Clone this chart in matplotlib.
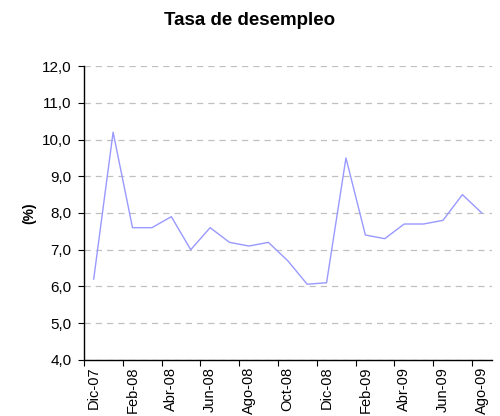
import numpy as np
import matplotlib
matplotlib.use("Agg")
import matplotlib.pyplot as plt
from matplotlib.ticker import FixedLocator, FuncFormatter

plt.rcParams['font.family'] = ['Liberation Sans', 'DejaVu Sans']

# Tasa de desempleo mensual, Dic-07 .. Ago-09
meses = ['Dic-07', 'Ene-08', 'Feb-08', 'Mar-08', 'Abr-08', 'May-08', 'Jun-08',
         'Jul-08', 'Ago-08', 'Sep-08', 'Oct-08', 'Nov-08', 'Dic-08', 'Ene-09',
         'Feb-09', 'Mar-09', 'Abr-09', 'May-09', 'Jun-09', 'Jul-09', 'Ago-09']
tasa = [6.2, 10.2, 7.6, 7.6, 7.9, 7.0, 7.6, 7.2, 7.1, 7.2, 6.7, 6.06, 6.1,
        9.5, 7.4, 7.3, 7.7, 7.7, 7.8, 8.5, 8.0]

fig = plt.figure(figsize=(5.0, 4.16), dpi=100)
ax = fig.add_axes([0.168, 0.135, 0.815, 0.706])

x = np.arange(len(meses))
ax.plot(x, tasa, color='#9999FF', lw=1.0)

ax.set_xlim(-0.5, len(meses) - 0.5)
ax.set_ylim(4, 12)
ax.set_yticks(np.arange(4, 12.01, 1))
ax.yaxis.set_major_formatter(FuncFormatter(lambda v, p: f"{v:.1f}".replace('.', ',')))
ax.yaxis.grid(True, color='#C0C0C0', ls=(0, (5, 4)), lw=0.9)
ax.set_axisbelow(True)

# ticks between categories, labels every two months
ax.xaxis.set_major_locator(FixedLocator(np.arange(-0.5, len(meses) - 1, 2)))
ax.xaxis.set_major_formatter(FuncFormatter(lambda v, p: ''))
ax.xaxis.set_minor_locator(FixedLocator(x[::2]))
ax.set_xticklabels([meses[i] for i in x[::2]], minor=True, rotation=90)
ax.tick_params(axis='x', which='minor', length=0, labelsize=10.5, pad=5)
ax.tick_params(axis='x', which='major', length=4, direction='out', color='black')
ax.tick_params(axis='y', length=4, direction='out', labelsize=11, pad=5, color='black')

for s in ['top', 'right']:
    ax.spines[s].set_visible(False)
for s in ['left', 'bottom']:
    ax.spines[s].set_color('black')
    ax.spines[s].set_linewidth(1.0)

ax.set_ylabel('(%)', fontsize=10, fontweight='bold', labelpad=4)
fig.suptitle('Tasa de desempleo', fontsize=13.5, fontweight='bold', y=0.972)

fig.savefig('out.png', dpi=100)
